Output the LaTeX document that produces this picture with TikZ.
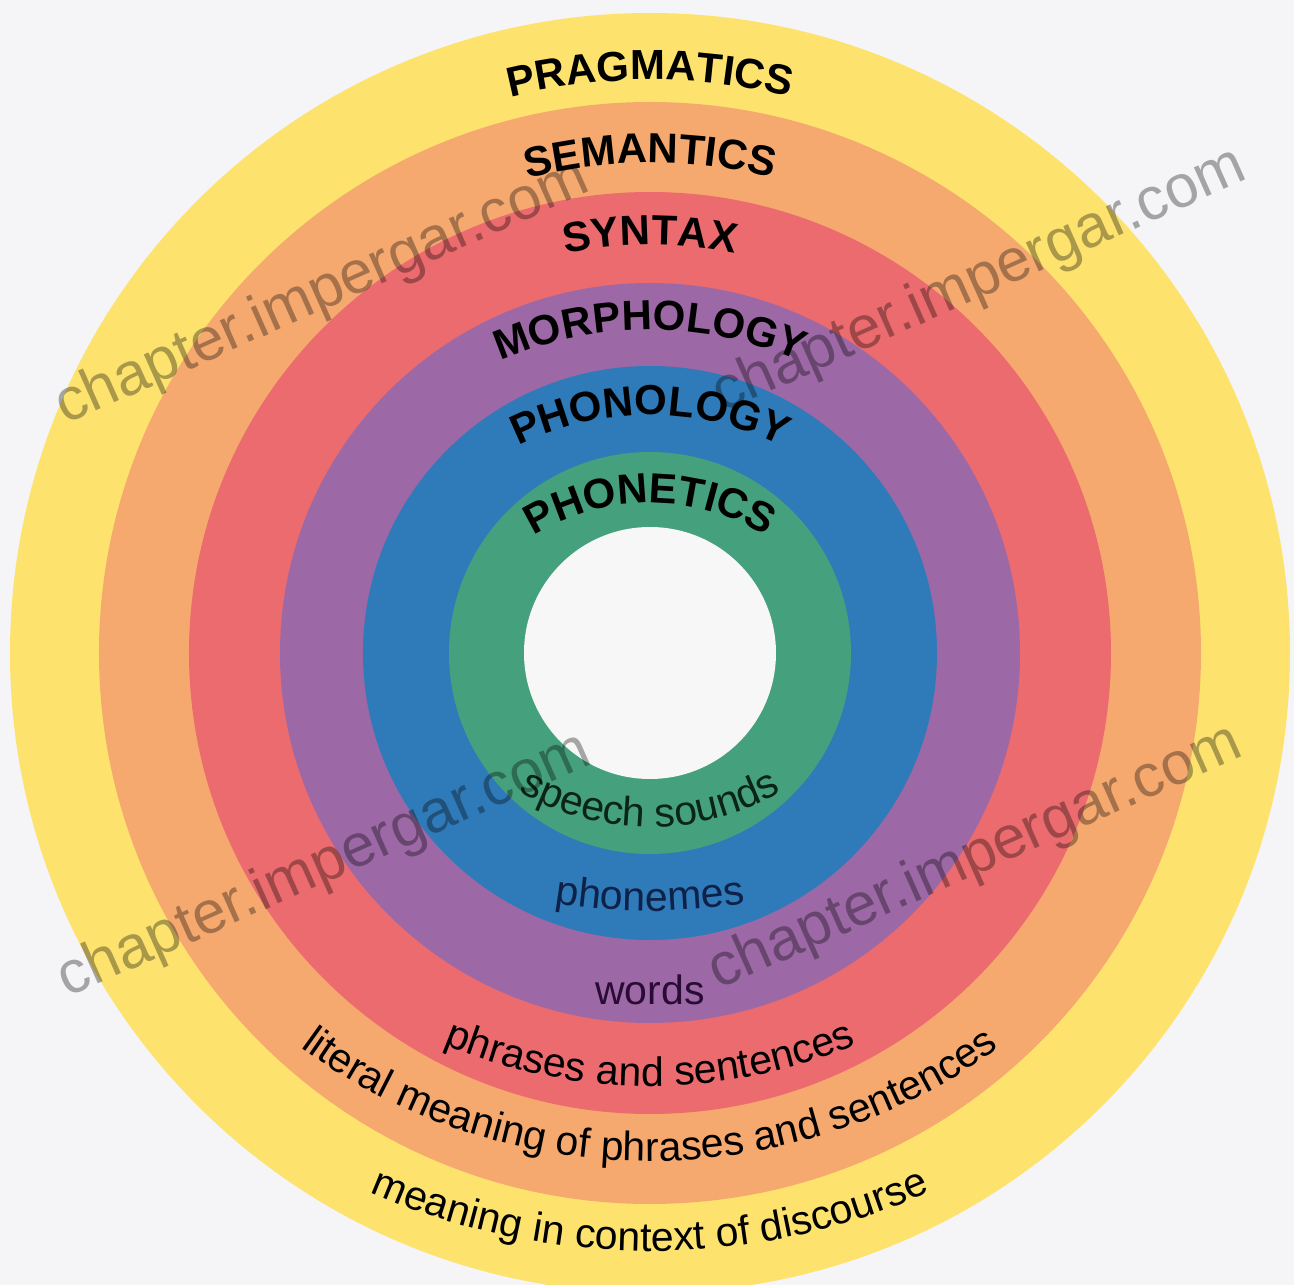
\documentclass[tikz,border=0pt]{standalone}
\usepackage{fontspec}
\setmainfont{Liberation Sans}
\usetikzlibrary{decorations.text}
\definecolor{ringY}{HTML}{FDE36E}
\definecolor{ringO}{HTML}{F5A96F}
\definecolor{ringR}{HTML}{EC6B6E}
\definecolor{ringP}{HTML}{9C68A5}
\definecolor{ringB}{HTML}{2F7AB8}
\definecolor{ringG}{HTML}{45A07D}
\definecolor{coreW}{HTML}{F7F7F8}
\definecolor{bgc}{HTML}{F5F5F7}
\definecolor{navyT}{HTML}{0E2148}
\definecolor{plumT}{HTML}{2A0B36}
\definecolor{greenT}{HTML}{0A2418}
\newcommand\TopLabFont{\bfseries\fontsize{42}{42}\selectfont}
\newcommand\BotLabFont{\fontsize{41}{41}\selectfont}
\begin{document}
\begin{tikzpicture}[x=1pt,y=1pt,
  toparc/.style={decorate, decoration={text along path, text align=center, text={|\TopLabFont|#1}}},
  botarc/.style={decorate, decoration={text along path, text align=center, text={|\BotLabFont|#1}}},
  botarcc/.style 2 args={decorate, decoration={text along path, text align=center, text={|\BotLabFont\color{#1}|#2}}},
  wmark/.style={font=\fontsize{60}{60}\selectfont, text=black, text opacity=0.33, rotate=24, anchor=base west, inner sep=0pt}]
\useasboundingbox (-650pt,-632pt) rectangle (644pt,653pt);
\fill[bgc] (-650pt,-632pt) rectangle (644pt,653pt);
% rings
\fill[ringY] (0pt,0pt) circle[radius=640pt];
\fill[ringO] (0pt,0pt) circle[radius=551pt];
\fill[ringR] (0pt,0pt) circle[radius=461pt];
\fill[ringP] (0pt,0pt) circle[radius=370pt];
\fill[ringB] (0pt,0pt) circle[radius=287pt];
\fill[ringG] (0pt,0pt) circle[radius=201pt];
\fill[coreW] (0pt,0pt) circle[radius=126pt];
% top labels
\path[toparc=PRAGMATICS] (150:573pt) arc[start angle=150, end angle=30, radius=573pt];
\path[toparc=SEMANTICS] (150:490pt) arc[start angle=150, end angle=30, radius=490pt];
\path[toparc=SYNTAX] (150:408pt) arc[start angle=150, end angle=30, radius=408pt];
\path[toparc=MORPHOLOGY] ([shift={(0pt,-51pt)}]150:374pt) arc[start angle=150, end angle=30, radius=374pt];
\path[toparc=PHONOLOGY] ([shift={(0pt,-54pt)}]150:292pt) arc[start angle=150, end angle=30, radius=292pt];
\path[toparc=PHONETICS] ([shift={(0pt,-70pt)}]140:220pt) arc[start angle=140, end angle=40, radius=220pt];
% bottom labels
\path[botarcc={greenT}{speech sounds}] ([shift={(0pt,88pt)}]210:262pt) arc[start angle=210, end angle=330, radius=262pt];
\path[botarcc={navyT}{phonemes}] ([shift={(0pt,321pt)}]240:579pt) arc[start angle=240, end angle=300, radius=579pt];
\node[font=\BotLabFont, text=plumT, inner sep=0pt] (words) at (0pt,-337pt) {words};
\path[botarc=phrases and sentences] ([shift={(0pt,99pt)}]210:532pt) arc[start angle=210, end angle=330, radius=532pt];
\path[botarc=literal meaning of phrases and sentences] ([shift={(0pt,86pt)}]190:594pt) arc[start angle=190, end angle=350, radius=594pt];
\path[botarc=meaning in context of discourse] ([shift={(0pt,96pt)}]210:694pt) arc[start angle=210, end angle=330, radius=694pt];
% watermarks
\node[wmark] (wm1) at (-585pt,228pt) {chapter.impergar.com};
\node[wmark] (wm2) at (72pt,240pt) {chapter.impergar.com};
\node[wmark] (wm3) at (-583pt,-345pt) {chapter.impergar.com};
\node[wmark] (wm4) at (68pt,-337pt) {chapter.impergar.com};
\end{tikzpicture}
\end{document}
